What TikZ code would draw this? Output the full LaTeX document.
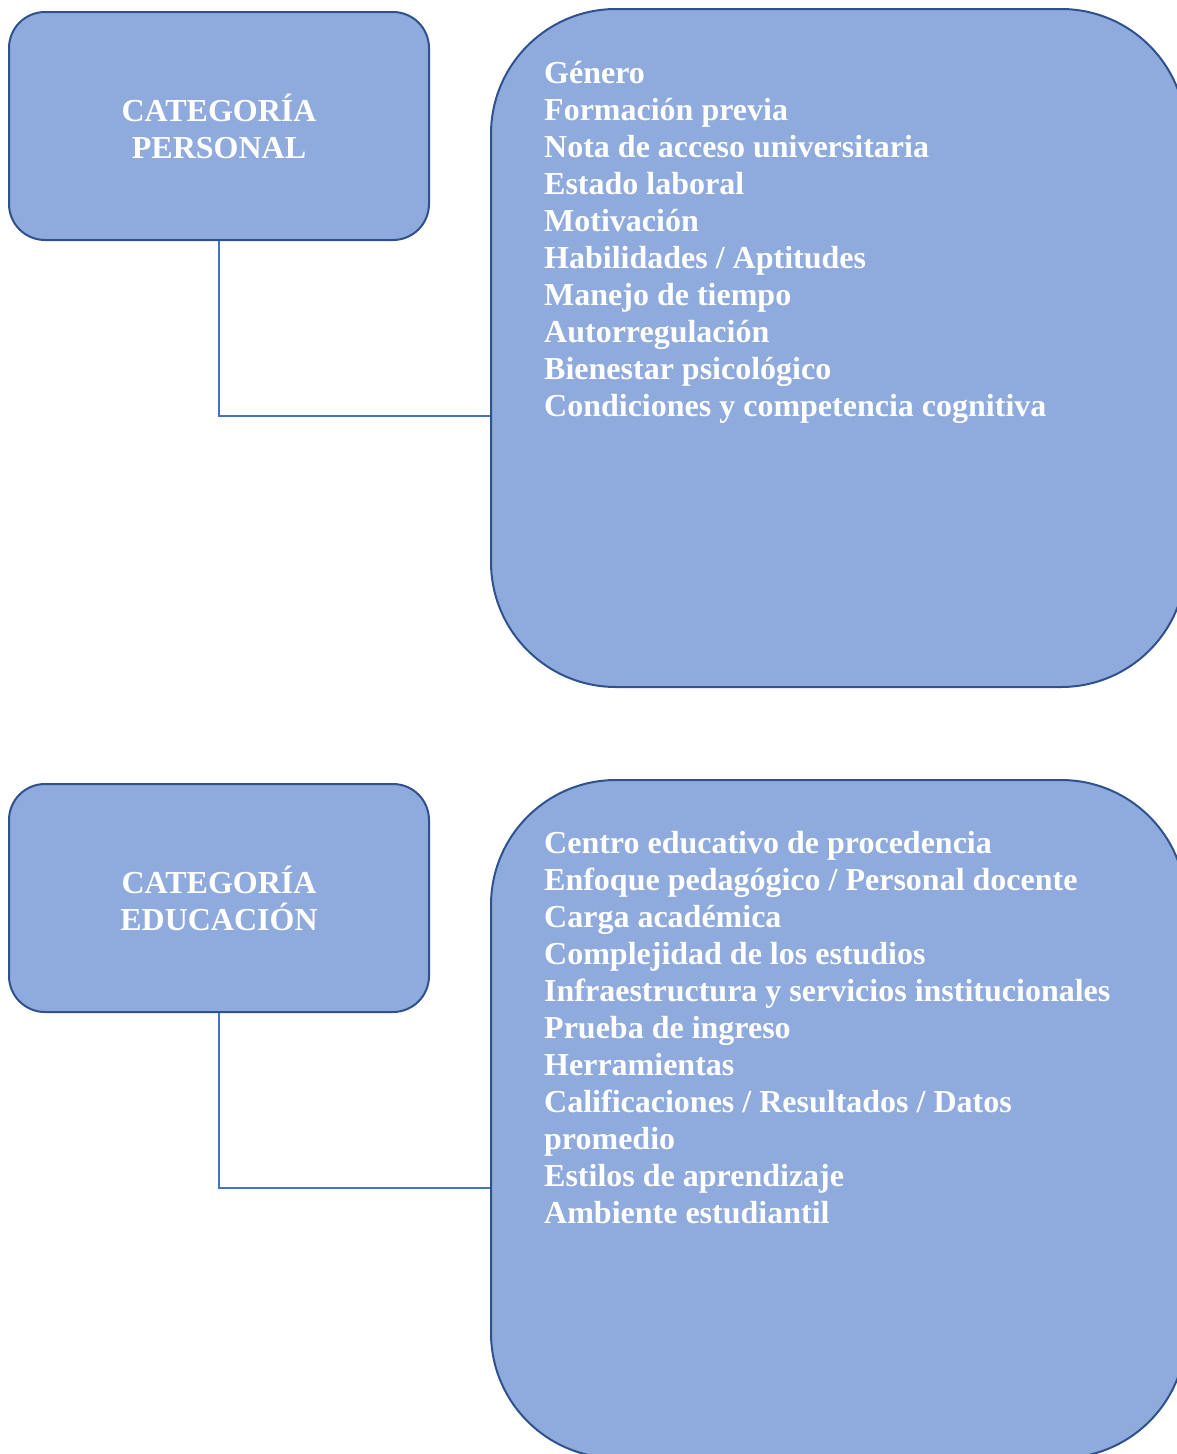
\documentclass[tikz,border=0pt]{standalone}
\usepackage{fontspec}
\setmainfont{Liberation Serif}
\definecolor{boxfill}{HTML}{8FAADC}
\definecolor{boxline}{HTML}{2F528F}
\definecolor{connline}{HTML}{4472C4}
\begin{document}
\begin{tikzpicture}[x=1pt,y=-1pt,
  catbox/.style={draw=boxline, fill=boxfill, line width=2pt, rounded corners=36pt,
    minimum width=420pt, minimum height=228pt, inner sep=0pt, text=white,
    font=\bfseries\fontsize{32}{37}\selectfont, align=center},
  listbox/.style={draw=boxline, fill=boxfill, line width=2pt, rounded corners=125pt,
    minimum width=695pt, minimum height=678pt, inner sep=0pt, anchor=north west},
  listtext/.style={text=white, font=\bfseries\fontsize{32}{37}\selectfont,
    align=left, anchor=base west, inner sep=0pt},
  conn/.style={draw=connline, line width=1.1pt}]
\useasboundingbox (0,0) rectangle (1177,1454);
\clip (0,0) rectangle (1177,1454);

% top group
\node[catbox] (p1) at (219,126) {CATEGORÍA\\PERSONAL};
\node[listbox] (b1) at (490,8) {};
\coordinate (j1) at (490,416);
\draw[conn] (p1.south) |- (j1);
% anchor = baseline of the last line
\node[listtext] (t1) at (544,416) {Género\\Formación previa\\Nota de acceso universitaria\\Estado laboral\\Motivación\\Habilidades / Aptitudes\\Manejo de tiempo\\Autorregulación\\Bienestar psicológico\\Condiciones y competencia cognitiva};

% bottom group
\node[catbox] (p2) at (219,898) {CATEGORÍA\\EDUCACIÓN};
\node[listbox] (b2) at (490,779) {};
\coordinate (j2) at (490,1188);
\draw[conn] (p2.south) |- (j2);
\node[listtext] (t2) at (544,1223) {Centro educativo de procedencia\\Enfoque pedagógico / Personal docente\\Carga académica\\Complejidad de los estudios\\Infraestructura y servicios institucionales\\Prueba de ingreso\\Herramientas\\Calificaciones / Resultados / Datos\\promedio\\Estilos de aprendizaje\\Ambiente estudiantil};
\end{tikzpicture}
\end{document}
